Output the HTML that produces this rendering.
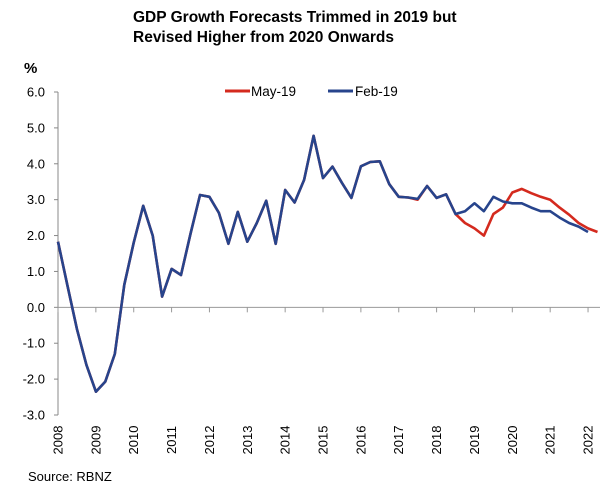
<!DOCTYPE html>
<html><head><meta charset="utf-8"><style>
html,body{margin:0;padding:0;background:#fff;}
svg{display:block;font-family:"Liberation Sans",Arial,sans-serif;}
</style></head><body>
<svg id="chart" width="600" height="486" viewBox="0 0 600 486">
<text x="133" y="22" font-size="15.5" font-weight="bold">GDP Growth Forecasts Trimmed in 2019 but</text>
<text x="133" y="42" font-size="15.5" font-weight="bold">Revised Higher from 2020 Onwards</text>
<text x="24" y="73" font-size="15" font-weight="bold">%</text>
<g>
<line x1="225" y1="91" x2="250" y2="91" stroke="#d42a1e" stroke-width="3"/>
<text x="251" y="96" font-size="13.5">May-19</text>
<line x1="328" y1="91" x2="353" y2="91" stroke="#27448c" stroke-width="3"/>
<text x="355" y="96" font-size="13.5">Feb-19</text>
</g>
<g id="axes"></g>
<g id="series"></g>
<text x="28" y="481" font-size="13">Source: RBNZ</text>
</svg>
<script>
const yTicks = [6,5,4,3,2,1,0,-1,-2,-3];
const years = [2008,2009,2010,2011,2012,2013,2014,2015,2016,2017,2018,2019,2020,2021,2022];
const feb19 = [1.83,0.6,-0.6,-1.6,-2.35,-2.07,-1.3,0.63,1.8,2.83,2.0,0.3,1.07,0.9,2.05,3.13,3.08,2.63,1.77,2.66,1.83,2.35,2.97,1.77,3.27,2.92,3.55,4.78,3.6,3.92,3.47,3.05,3.93,4.05,4.07,3.43,3.08,3.06,3.02,3.38,3.05,3.15,2.6,2.68,2.9,2.68,3.08,2.95,2.9,2.9,2.78,2.68,2.68,2.5,2.35,2.25,2.1];
const may19 = [1.83,0.6,-0.6,-1.6,-2.35,-2.07,-1.3,0.63,1.8,2.83,2.0,0.3,1.07,0.9,2.05,3.13,3.08,2.63,1.77,2.66,1.83,2.35,2.97,1.77,3.27,2.92,3.55,4.78,3.6,3.92,3.47,3.05,3.93,4.05,4.07,3.43,3.08,3.06,3.0,3.38,3.05,3.15,2.6,2.35,2.2,2.0,2.6,2.78,3.2,3.3,3.18,3.08,3.0,2.78,2.58,2.35,2.2,2.1];
const NS="http://www.w3.org/2000/svg";
const x0=58, yearW=37.86, y6=92, y3n=415;
function xScale(q){return x0+q*yearW/4;}
function xYear(y){return x0+(y-2008)*yearW;}
function yScale(v){return y6+(6-v)*(y3n-y6)/9;}
const axes=document.getElementById('axes');
function mk(tag,attrs,parent){const e=document.createElementNS(NS,tag);for(const k in attrs)e.setAttribute(k,attrs[k]);parent.appendChild(e);return e;}
const yAxis=mk('line',{x1:x0,y1:y6,x2:x0,y2:y3n,stroke:'#888','stroke-width':1},axes);


yTicks.forEach(v=>{
  const t=mk('line',{x1:x0-4,y1:yScale(v),x2:x0,y2:yScale(v),stroke:'#888'},axes);
  
  
  const l=mk('text',{x:45,y:yScale(v)+4.5,'font-size':13,'text-anchor':'end'},axes);
  l.textContent=v.toFixed(1);
  
  
});
const xAxis=mk('line',{x1:x0,y1:yScale(0),x2:600,y2:yScale(0),stroke:'#999','stroke-width':1},axes);


years.forEach(y=>{
  const x=xYear(y);
  const t=mk('line',{x1:x,y1:yScale(0),x2:x,y2:yScale(0)+5,stroke:'#999'},axes);
  
  
  const l=mk('text',{x:0,y:0,'font-size':13,'text-anchor':'middle',transform:`translate(${x+4.5},440) rotate(-90)`},axes);
  l.textContent=y;
  
  
});
const series=document.getElementById('series');
function line(data,color,name){
  const d=data.map((v,i)=>(i?'L':'M')+xScale(i).toFixed(1)+','+yScale(v).toFixed(1)).join(' ');
  const p=mk('path',{d:d,fill:'none',stroke:color,'stroke-width':2.6,'stroke-linejoin':'round'},series);
  
  
}
line(may19,'#d42a1e','may19-line');
line(feb19,'#27448c','feb19-line');
</script>
</body></html>
